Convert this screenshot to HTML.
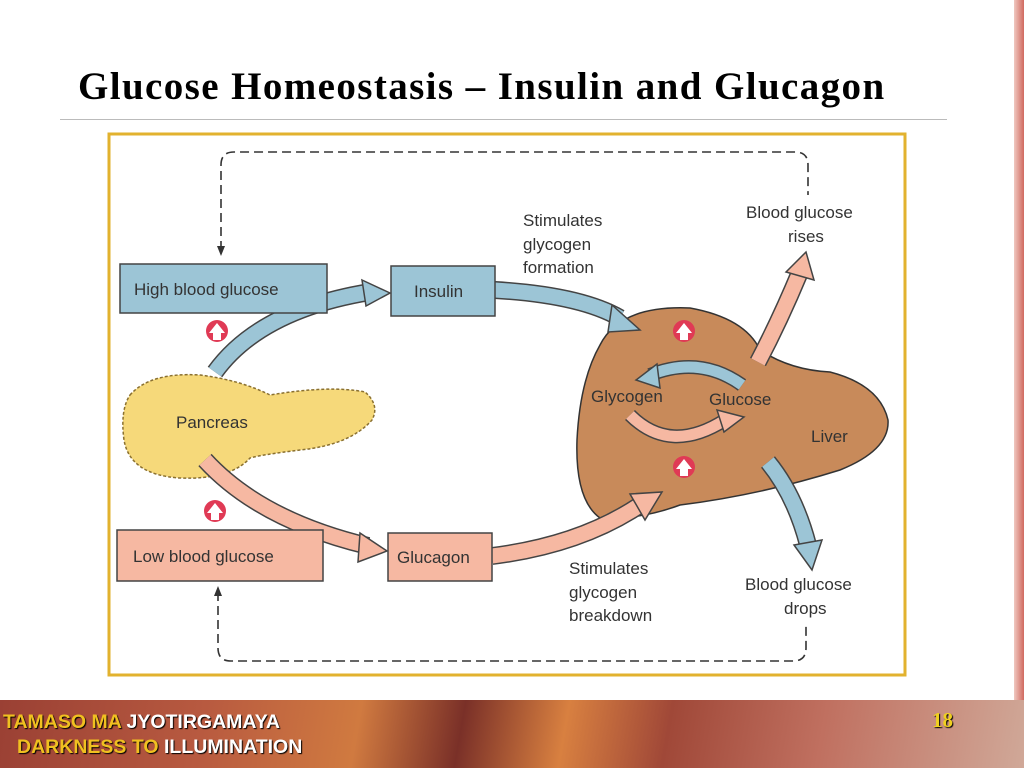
<!DOCTYPE html>
<html><head><style>
body{margin:0;width:1024px;height:768px;overflow:hidden;background:#fff;position:relative;font-family:"Liberation Sans",sans-serif}
.title{position:absolute;left:78px;top:64px;font:bold 39px "Liberation Serif",serif;letter-spacing:1.4px;color:#000;white-space:nowrap}
.rule{position:absolute;left:60px;top:119px;width:887px;height:1px;background:#bbb}
.stripe{position:absolute;left:1014px;top:0;width:10px;height:700px;background:linear-gradient(90deg,#f0c8c0,#d06a60)}
.foot{position:absolute;left:0;top:700px;width:1024px;height:68px;background:linear-gradient(100deg,#9a4034 0%,#b85a40 20%,#d07a40 35%,#7a3028 45%,#d88040 55%,#a04838 65%,#c07060 80%,#d0a898 100%)}
.ft{position:absolute;font:bold 19.5px "Liberation Sans",sans-serif;color:#fff;text-shadow:1px 1px 1px #000;white-space:nowrap}
.y{color:#f0c020}
</style></head><body>
<div class="title">Glucose Homeostasis – Insulin and Glucagon</div>
<div class="rule"></div>
<div class="stripe"></div>
<svg width="1024" height="768" style="position:absolute;left:0;top:0" font-family="Liberation Sans, sans-serif">
<rect x="109" y="134" width="796" height="541" fill="#fff" stroke="#e2b22e" stroke-width="3"/>
<path d="M221,250 V165 Q221,152 234,152 H795 Q808,152 808,165 V195" fill="none" stroke="#333" stroke-width="1.6" stroke-dasharray="9,5"/>
<polygon points="217,246 225,246 221,256" fill="#333"/>
<path d="M218,592 V648 Q218,661 231,661 H793 Q806,661 806,648 V625" fill="none" stroke="#333" stroke-width="1.6" stroke-dasharray="9,5"/>
<polygon points="214,596 222,596 218,586" fill="#333"/>
<path d="M600,345 Q620,305 690,308 Q745,318 760,350 Q790,370 830,372 Q880,385 888,420 Q890,450 840,470 Q760,495 680,505 Q640,520 600,518 Q575,500 577,440 Q580,380 600,345Z" fill="#c88a5a" stroke="#333" stroke-width="1.5"/>
<path d="M130,395 Q150,372 200,375 Q240,380 270,395 Q330,385 365,392 Q380,405 372,420 Q350,445 300,450 Q260,455 250,458 Q230,480 180,478 Q130,475 124,440 Q120,410 130,395Z" fill="#f6d97a" stroke="#8a7030" stroke-width="1.5" stroke-dasharray="3,2"/>
<g fill="none" stroke-linecap="butt">
<path d="M215,372 Q260,310 370,292" stroke="#444" stroke-width="18"/>
<path d="M215,372 Q260,310 370,292" stroke="#9cc5d6" stroke-width="15"/>
<path d="M495,290 Q580,295 620,318" stroke="#444" stroke-width="18"/>
<path d="M495,290 Q580,295 620,318" stroke="#9cc5d6" stroke-width="15"/>
<path d="M205,460 Q260,520 368,546" stroke="#444" stroke-width="18"/>
<path d="M205,460 Q260,520 368,546" stroke="#f6b8a2" stroke-width="15"/>
<path d="M492,556 Q580,545 640,505" stroke="#444" stroke-width="18"/>
<path d="M492,556 Q580,545 640,505" stroke="#f6b8a2" stroke-width="15"/>
<path d="M758,362 Q780,320 800,272" stroke="#444" stroke-width="18"/>
<path d="M758,362 Q780,320 800,272" stroke="#f6b8a2" stroke-width="15"/>
<path d="M768,462 Q795,495 808,545" stroke="#444" stroke-width="18"/>
<path d="M768,462 Q795,495 808,545" stroke="#9cc5d6" stroke-width="15"/>
<path d="M742,385 Q700,355 650,375" stroke="#444" stroke-width="14"/>
<path d="M742,385 Q700,355 650,375" stroke="#9cc5d6" stroke-width="11"/>
<path d="M630,415 Q670,455 725,420" stroke="#444" stroke-width="14"/>
<path d="M630,415 Q670,455 725,420" stroke="#f6b8a2" stroke-width="11"/>
</g>
<g stroke="#444" stroke-width="1.5">
<polygon points="362,280 390,293 366,306" fill="#9cc5d6"/>
<polygon points="612,305 640,330 608,332" fill="#9cc5d6"/>
<polygon points="360,533 387,551 358,562" fill="#f6b8a2"/>
<polygon points="630,494 662,492 645,520" fill="#f6b8a2"/>
<polygon points="786,272 806,252 814,280" fill="#f6b8a2"/>
<polygon points="794,545 822,540 812,570" fill="#9cc5d6"/>
<polygon points="657,364 636,380 660,388" fill="#9cc5d6"/>
<polygon points="717,410 744,417 724,432" fill="#f6b8a2"/>
</g>
<rect x="120" y="264" width="207" height="49" fill="#9cc5d6" stroke="#444" stroke-width="1.5"/>
<rect x="391" y="266" width="104" height="50" fill="#9cc5d6" stroke="#444" stroke-width="1.5"/>
<rect x="117" y="530" width="206" height="51" fill="#f6b8a2" stroke="#444" stroke-width="1.5"/>
<rect x="388" y="533" width="104" height="48" fill="#f6b8a2" stroke="#444" stroke-width="1.5"/>
<g fill="#e03a55"><circle cx="217" cy="331" r="11"/><circle cx="215" cy="511" r="11"/><circle cx="684" cy="331" r="11"/><circle cx="684" cy="467" r="11"/></g>
<g fill="#fff"><polygon points="217,323 225,333 221,333 221,340 213,340 213,333 209,333"/><polygon points="215,503 223,513 219,513 219,520 211,520 211,513 207,513"/><polygon points="684,323 692,333 688,333 688,340 680,340 680,333 676,333"/><polygon points="684,459 692,469 688,469 688,476 680,476 680,469 676,469"/></g>
<g font-size="17" fill="#333">
<text x="134" y="295">High blood glucose</text>
<text x="414" y="297">Insulin</text>
<text x="133" y="562">Low blood glucose</text>
<text x="397" y="563">Glucagon</text>
<text x="176" y="428">Pancreas</text>
<text x="591" y="402">Glycogen</text>
<text x="709" y="405">Glucose</text>
<text x="811" y="442">Liver</text>
<text x="523" y="226">Stimulates</text>
<text x="523" y="250">glycogen</text>
<text x="523" y="273">formation</text>
<text x="569" y="574">Stimulates</text>
<text x="569" y="598">glycogen</text>
<text x="569" y="621">breakdown</text>
<text x="746" y="218">Blood glucose</text>
<text x="788" y="242">rises</text>
<text x="745" y="590">Blood glucose</text>
<text x="784" y="614">drops</text>
</g>
</svg>
<div class="foot"></div>
<div class="ft" style="left:3px;top:711px"><span class="y">TAMASO MA</span> JYOTIRGAMAYA</div>
<div class="ft" style="left:17px;top:736px"><span class="y">DARKNESS TO</span> ILLUMINATION</div>
<div class="ft" style="left:932px;top:708px;font:bold 21px 'Liberation Serif',serif;color:#f0d020">18</div>
</body></html>
